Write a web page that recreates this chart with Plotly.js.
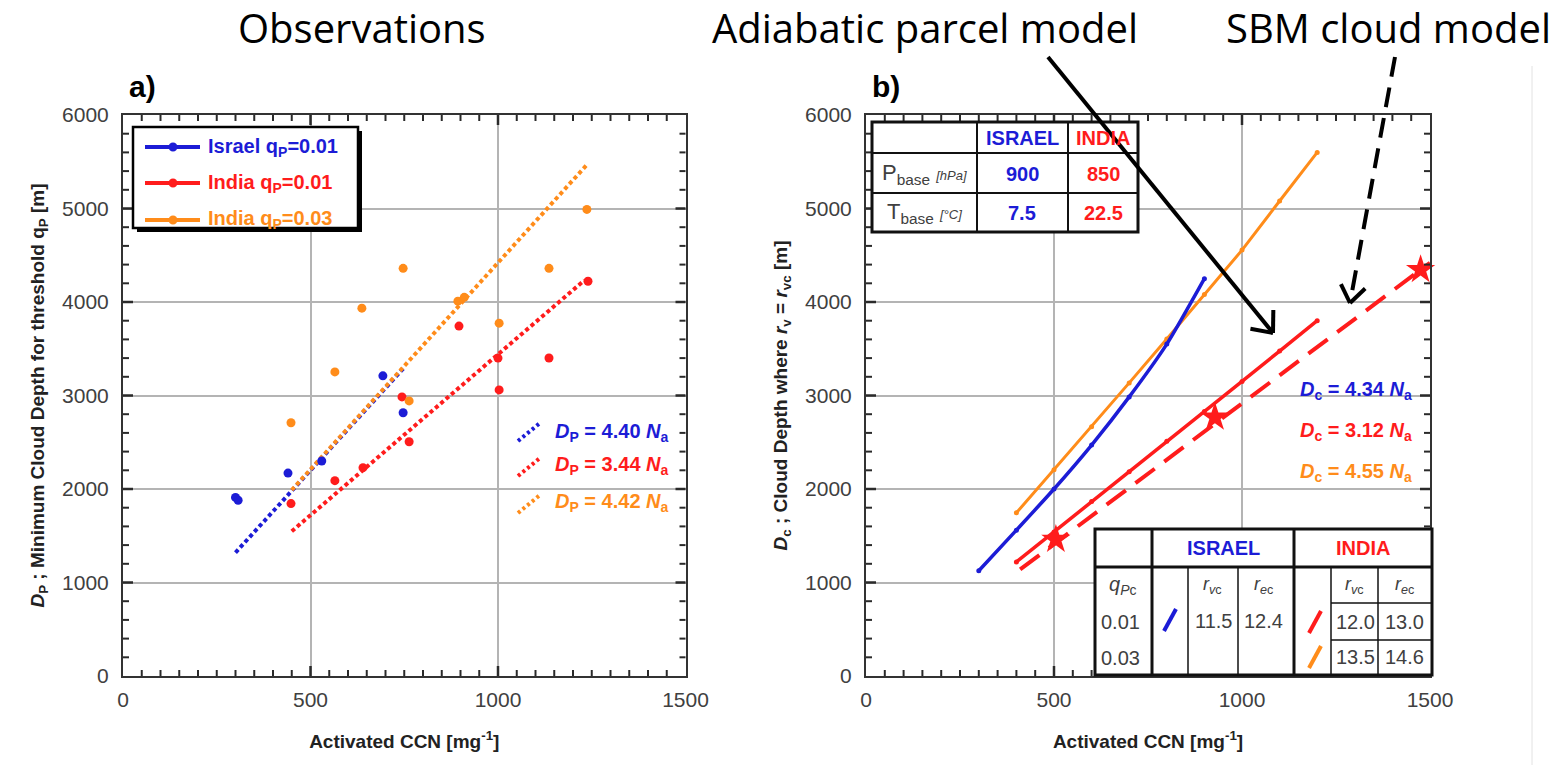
<!DOCTYPE html>
<html>
<head>
<meta charset="utf-8">
<script src="https://cdn.plot.ly/plotly-3.0.1.min.js"></script>
<style>
  html, body { margin: 0; padding: 0; background: #ffffff; }
  #chart { width: 1566px; height: 765px; }
</style>
</head>
<body>
<div id="chart"></div>
<script>
// ---------- panel a) observations ----------
const israelObsN = [300, 307, 440, 530, 693, 747];
const israelObsD = [1910, 1880, 2170, 2300, 3210, 2815];
const indiaObsN = [448, 565, 640, 744, 763, 896, 1000, 1003, 1136, 1240];
const indiaObsD = [1844, 2089, 2228, 2985, 2505, 3742, 3400, 3060, 3401, 4222];
const india03ObsN = [448, 565, 637, 747, 763, 893, 910, 1003, 1136, 1237];
const india03ObsD = [2708, 3252, 3934, 4360, 2942, 4009, 4050, 3774, 4360, 4990];

// linear fits D_P = k * N_a and the N_a range each fit covers
const slopeIsrael = 4.40, slopeIndia = 3.44, slopeIndia03 = 4.42;
const fitNIsrael = [300, 750];
const fitNIndia = [450, 1230];
const fitNIndia03 = [450, 1235];

// ---------- panel b) models ----------
const parcelIsraelN = [300, 400, 500, 600, 700, 800, 900];
const parcelIsraelD = [1125, 1560, 2000, 2470, 2985, 3550, 4250];
const parcelIndia03N = [400, 500, 600, 700, 800, 900, 1000, 1100, 1200];
const parcelIndia03D = [1745, 2205, 2665, 3135, 3605, 4080, 4555, 5080, 5600];
const parcelIndiaN = [400, 500, 600, 700, 800, 900, 1000, 1100, 1200];
const parcelIndiaD = [1220, 1540, 1865, 2185, 2510, 2830, 3150, 3475, 3800];
const sbmIndiaN = [410, 1500];
const sbmIndiaD = [1140, 4420];
const sbmStarsN = [505, 928, 1475];
const sbmStarsD = [1460, 2767, 4345];
const fitLabelsB = [4.34, 3.12, 4.55];

// axis ticks: major positions and minor spacing
const xTickVals = [0, 500, 1000, 1500];
const yTickVals = [0, 1000, 2000, 3000, 4000, 5000, 6000];
const xMinorStep = 50, yMinorStep = 200;

// ---------- styling ----------
const W = 1566, H = 765;
const BLUE = 'rgb(28,28,214)', RED = 'rgb(255,28,28)', ORANGE = 'rgb(255,140,26)';
const FONT = 'Liberation Sans, Arial, sans-serif';
const GRAY_TXT = '#404040';
const X = p => p / W;
const Y = p => 1 - p / H;
// panel frames in pixels
const FRAME_A = { left: 123, right: 685.5 }, FRAME_B = { left: 866, right: 1430 };
const FRAME_TOP = 115, FRAME_BOTTOM = 676;

function seg(x0, y0, x1, y1, color, width, dash) {
  return { type: 'line', xref: 'paper', yref: 'paper', layer: 'above',
    x0: X(x0), y0: Y(y0), x1: X(x1), y1: Y(y1),
    line: { color: color, width: width, dash: dash || 'solid' } };
}
function box(x0, y0, x1, y1, fill, lineColor, width) {
  return { type: 'rect', xref: 'paper', yref: 'paper', layer: 'above',
    x0: X(x0), y0: Y(y0), x1: X(x1), y1: Y(y1), fillcolor: fill,
    line: { color: lineColor || 'rgba(0,0,0,0)', width: width || 0 } };
}
function dot(cx, cy, r, color) {
  return { type: 'circle', xref: 'paper', yref: 'paper', layer: 'above',
    x0: X(cx - r), y0: Y(cy + r), x1: X(cx + r), y1: Y(cy - r), fillcolor: color,
    line: { width: 0 } };
}
function label(x, y, text, size, color, xanchor, family) {
  return { xref: 'paper', yref: 'paper', x: X(x), y: Y(y), text: text,
    showarrow: false, xanchor: xanchor || 'center', yanchor: 'middle',
    font: { family: family || FONT, size: size, color: color } };
}
// arrow = shaft plus an open V head at (x1, y1)
function arrow(x0, y0, x1, y1, width, dash, headLen, headAng) {
  const a = Math.atan2(y0 - y1, x0 - x1);
  const out = [seg(x0, y0, x1, y1, '#000', width, dash)];
  [headAng, -headAng].forEach(d => {
    const t = a + d * Math.PI / 180;
    out.push(seg(x1, y1, x1 + headLen * Math.cos(t), y1 + headLen * Math.sin(t), '#000', width));
  });
  return out;
}
// inside tick marks on all four sides of a panel frame
function frameTicks(f) {
  const out = [];
  const xMajor = xTickVals[1] - xTickVals[0], yMajor = yTickVals[1] - yTickVals[0];
  const xEnd = xTickVals[xTickVals.length - 1], yEnd = yTickVals[yTickVals.length - 1];
  const sx = (f.right - f.left) / (xEnd - xTickVals[0]);
  const sy = (FRAME_BOTTOM - FRAME_TOP) / (yEnd - yTickVals[0]);
  for (let v = xTickVals[0] + xMinorStep; v < xEnd; v += xMinorStep) {
    const major = v % xMajor === 0, len = major ? 10 : 6, w = major ? 2.5 : 2;
    const px = f.left + (v - xTickVals[0]) * sx;
    out.push(seg(px, FRAME_BOTTOM, px, FRAME_BOTTOM - len, '#2a2a2a', w));
    out.push(seg(px, FRAME_TOP, px, FRAME_TOP + len, '#2a2a2a', w));
  }
  for (let v = yTickVals[0] + yMinorStep; v < yEnd; v += yMinorStep) {
    const major = v % yMajor === 0, len = major ? 10 : 6, w = major ? 2.5 : 2;
    const py = FRAME_BOTTOM - (v - yTickVals[0]) * sy;
    out.push(seg(f.left, py, f.left + len, py, '#2a2a2a', w));
    out.push(seg(f.right, py, f.right - len, py, '#2a2a2a', w));
  }
  return out;
}

// ---------- traces ----------
const fitLine = (n, k) => n.map(v => k * v);
const traces = [
  { x: fitNIsrael, y: fitLine(fitNIsrael, slopeIsrael), xaxis: 'x', yaxis: 'y', mode: 'lines',
    line: { color: BLUE, width: 4, dash: '4px,3px' }, showlegend: false },
  { x: fitNIndia, y: fitLine(fitNIndia, slopeIndia), xaxis: 'x', yaxis: 'y', mode: 'lines',
    line: { color: RED, width: 4, dash: '4px,3px' }, showlegend: false },
  { x: fitNIndia03, y: fitLine(fitNIndia03, slopeIndia03), xaxis: 'x', yaxis: 'y', mode: 'lines',
    line: { color: ORANGE, width: 4, dash: '4px,3px' }, showlegend: false },
  { x: israelObsN, y: israelObsD, xaxis: 'x', yaxis: 'y', mode: 'markers',
    marker: { color: BLUE, size: 9 }, showlegend: false },
  { x: indiaObsN, y: indiaObsD, xaxis: 'x', yaxis: 'y', mode: 'markers',
    marker: { color: RED, size: 9 }, showlegend: false },
  { x: india03ObsN, y: india03ObsD, xaxis: 'x', yaxis: 'y', mode: 'markers',
    marker: { color: ORANGE, size: 9 }, showlegend: false },

  { x: parcelIndia03N, y: parcelIndia03D, xaxis: 'x2', yaxis: 'y2', mode: 'lines+markers',
    line: { color: ORANGE, width: 3 }, marker: { color: ORANGE, size: 5 }, showlegend: false },
  { x: parcelIsraelN, y: parcelIsraelD, xaxis: 'x2', yaxis: 'y2', mode: 'lines+markers',
    line: { color: BLUE, width: 3.5, shape: 'spline', smoothing: 0.6 }, marker: { color: BLUE, size: 5 }, showlegend: false },
  { x: parcelIndiaN, y: parcelIndiaD, xaxis: 'x2', yaxis: 'y2', mode: 'lines+markers',
    line: { color: RED, width: 3.5 }, marker: { color: RED, size: 5 }, showlegend: false },
  { x: sbmIndiaN, y: sbmIndiaD, xaxis: 'x2', yaxis: 'y2', mode: 'lines',
    line: { color: RED, width: 4, dash: '24px,12px' }, showlegend: false },
  { x: sbmStarsN, y: sbmStarsD, xaxis: 'x2', yaxis: 'y2', mode: 'markers', cliponaxis: false,
    marker: { color: RED, size: 22, symbol: 'star' }, showlegend: false }
];

// ---------- axes ----------
const xRange = [xTickVals[0], xTickVals[xTickVals.length - 1]];
const yRange = [yTickVals[0], yTickVals[yTickVals.length - 1]];
function xAxis(frame, anchor) {
  return {
    domain: [X(frame.left), X(frame.right)], anchor: anchor, range: xRange,
    tickmode: 'linear', tick0: xTickVals[0], dtick: xTickVals[1] - xTickVals[0],
    ticks: '', showline: true, linecolor: '#333', linewidth: 2, mirror: true,
    showgrid: true, gridcolor: '#b4b4b4', gridwidth: 2, zeroline: false,
    tickfont: { family: FONT, size: 21, color: GRAY_TXT }, ticklabelstandoff: 4, automargin: false,
    title: { text: '<b>Activated CCN [mg<sup>-1</sup>]</b>', standoff: 24,
      font: { family: FONT, size: 19, color: '#222' } }
  };
}
function yAxis(anchor, title) {
  return {
    domain: [Y(FRAME_BOTTOM), Y(FRAME_TOP)], anchor: anchor, range: yRange,
    tickmode: 'linear', tick0: yTickVals[0], dtick: yTickVals[1] - yTickVals[0],
    ticks: '', showline: true, linecolor: '#333', linewidth: 2, mirror: true,
    showgrid: true, gridcolor: '#b4b4b4', gridwidth: 2, zeroline: false,
    tickfont: { family: FONT, size: 21, color: GRAY_TXT }, ticklabelstandoff: 8, automargin: false,
    title: { text: title, standoff: 12, font: { family: FONT, size: 19, color: '#222' } }
  };
}

// ---------- shapes: ticks, legend box, tables, arrows ----------
const shapes = [].concat(frameTicks(FRAME_A), frameTicks(FRAME_B));
// legend of panel a)
shapes.push(box(137, 131, 362, 232, '#000'));
shapes.push(box(133, 127, 358, 228, '#fff', '#000', 2.5));
const legendRows = [[147, BLUE], [183, RED], [220, ORANGE]];
legendRows.forEach(r => { shapes.push(seg(145, r[0], 200, r[0], r[1], 4)); shapes.push(dot(173, r[0], 4.5, r[1])); });
// short fit-line keys next to the D_P labels
shapes.push(seg(518, 441, 540, 423, BLUE, 4, '3px,3px'));
shapes.push(seg(518, 476, 540, 458, RED, 4, '3px,3px'));
shapes.push(seg(518, 513, 540, 495, ORANGE, 4, '3px,3px'));

// top table: cloud base conditions
shapes.push(box(872, 122, 1138, 232, '#fff', '#111', 3));
shapes.push(seg(977, 122, 977, 232, '#111', 2));
shapes.push(seg(1068, 122, 1068, 232, '#111', 2));
shapes.push(seg(872, 153, 1138, 153, '#111', 2));
shapes.push(seg(872, 193, 1138, 193, '#111', 2));

// bottom table: threshold effective radii
shapes.push(box(1095, 529, 1432, 675, '#fff', '#111', 3));
shapes.push(seg(1152, 529, 1152, 675, '#111', 3));
shapes.push(seg(1294, 529, 1294, 675, '#111', 3));
shapes.push(seg(1095, 567, 1432, 567, '#111', 3));
[1188, 1238, 1331, 1378].forEach(x => shapes.push(seg(x, 567, x, 675, '#111', 1.5)));
shapes.push(seg(1331, 603, 1432, 603, '#111', 1.5));
shapes.push(seg(1331, 640, 1432, 640, '#111', 1.5));
shapes.push(seg(1164, 631, 1176, 609, BLUE, 4));
shapes.push(seg(1309, 633, 1321, 611, RED, 4));
shapes.push(seg(1309, 668, 1321, 646, ORANGE, 4));

// pointers from the headings to the model curves
arrow(1048, 57, 1273, 333, 4, 'solid', 23, 40).forEach(s => shapes.push(s));
arrow(1395, 57, 1350, 303, 4, '20px,11px', 21, 36).forEach(s => shapes.push(s));
// faint page edge on the right
shapes.push(seg(1532, 66, 1532, 765, '#e2e2e2', 1));

// ---------- text ----------
const bold = s => '<b>' + s + '</b>';
const HEAD = 'Open Sans, sans-serif';
const annotations = [
  label(362, 28, 'Observations', 40, '#000', 'center', HEAD),
  label(925, 28, 'Adiabatic parcel model', 40, '#000', 'center', HEAD),
  label(1388, 28, 'SBM cloud model', 40, '#000', 'center', HEAD),
  label(142, 86, bold('a)'), 30, '#000'),
  label(886, 86, bold('b)'), 30, '#000'),

  label(206, 147, bold('Israel q<sub>P</sub>=0.01'), 20, BLUE, 'left'),
  label(206, 183, bold('India q<sub>P</sub>=0.01'), 20, RED, 'left'),
  label(206, 220, bold('India q<sub>P</sub>=0.03'), 20, ORANGE, 'left'),

  label(553, 432, bold('<i>D</i><sub>P</sub> = ' + slopeIsrael.toFixed(2) + ' <i>N</i><sub>a</sub>'), 20, BLUE, 'left'),
  label(553, 466, bold('<i>D</i><sub>P</sub> = ' + slopeIndia.toFixed(2) + ' <i>N</i><sub>a</sub>'), 20, RED, 'left'),
  label(553, 502, bold('<i>D</i><sub>P</sub> = ' + slopeIndia03.toFixed(2) + ' <i>N</i><sub>a</sub>'), 20, ORANGE, 'left'),

  label(1414, 390, bold('<i>D</i><sub>c</sub> = ' + fitLabelsB[0].toFixed(2) + ' <i>N</i><sub>a</sub>'), 20, BLUE, 'right'),
  label(1414, 431, bold('<i>D</i><sub>c</sub> = ' + fitLabelsB[1].toFixed(2) + ' <i>N</i><sub>a</sub>'), 20, RED, 'right'),
  label(1414, 472, bold('<i>D</i><sub>c</sub> = ' + fitLabelsB[2].toFixed(2) + ' <i>N</i><sub>a</sub>'), 20, ORANGE, 'right'),

  // top table
  label(1022, 138, bold('ISRAEL'), 20, BLUE),
  label(1103, 138, bold('INDIA'), 20, RED),
  label(924, 174, 'P<sub>base</sub> <span style="font-size:13px"><i>[hPa]</i></span>', 22, GRAY_TXT),
  label(1022, 174, bold('900'), 20, BLUE),
  label(1103, 174, bold('850'), 20, RED),
  label(924, 213, 'T<sub>base</sub> <span style="font-size:13px"><i>[°C]</i></span>', 22, GRAY_TXT),
  label(1022, 213, bold('7.5'), 20, BLUE),
  label(1103, 213, bold('22.5'), 20, RED),

  // bottom table
  label(1223, 548, bold('ISRAEL'), 20, BLUE),
  label(1363, 548, bold('INDIA'), 20, RED),
  label(1122, 585, '<i>q</i><sub><i>P</i>c</sub>', 20, GRAY_TXT),
  label(1212, 585, '<i>r</i><sub><i>v</i>c</sub>', 18, GRAY_TXT),
  label(1263, 585, '<i>r</i><sub><i>e</i>c</sub>', 18, GRAY_TXT),
  label(1354, 585, '<i>r</i><sub><i>v</i>c</sub>', 18, GRAY_TXT),
  label(1404, 585, '<i>r</i><sub><i>e</i>c</sub>', 18, GRAY_TXT),
  label(1120, 622, '0.01', 20, GRAY_TXT),
  label(1213, 621, '11.5', 20, GRAY_TXT),
  label(1263, 621, '12.4', 20, GRAY_TXT),
  label(1355, 622, '12.0', 20, GRAY_TXT),
  label(1404, 622, '13.0', 20, GRAY_TXT),
  label(1120, 658, '0.03', 20, GRAY_TXT),
  label(1355, 657, '13.5', 20, GRAY_TXT),
  label(1404, 657, '14.6', 20, GRAY_TXT)
];

const layout = {
  width: W, height: H, autosize: false,
  margin: { l: 0, r: 0, t: 0, b: 0, pad: 0 },
  paper_bgcolor: '#ffffff', plot_bgcolor: '#ffffff',
  showlegend: false,
  xaxis: xAxis(FRAME_A, 'y'),
  yaxis: yAxis('x', '<b><i>D</i><sub>P</sub> ; Minimum Cloud Depth for threshold q<sub>P</sub> [m]</b>'),
  xaxis2: xAxis(FRAME_B, 'y2'),
  yaxis2: yAxis('x2', '<b><i>D</i><sub>c</sub> ; Cloud Depth where <i>r</i><sub>v</sub> = <i>r</i><sub>vc</sub> [m]</b>'),
  shapes: shapes,
  annotations: annotations
};

Plotly.newPlot('chart', traces, layout, { displayModeBar: false });
</script>
</body>
</html>
